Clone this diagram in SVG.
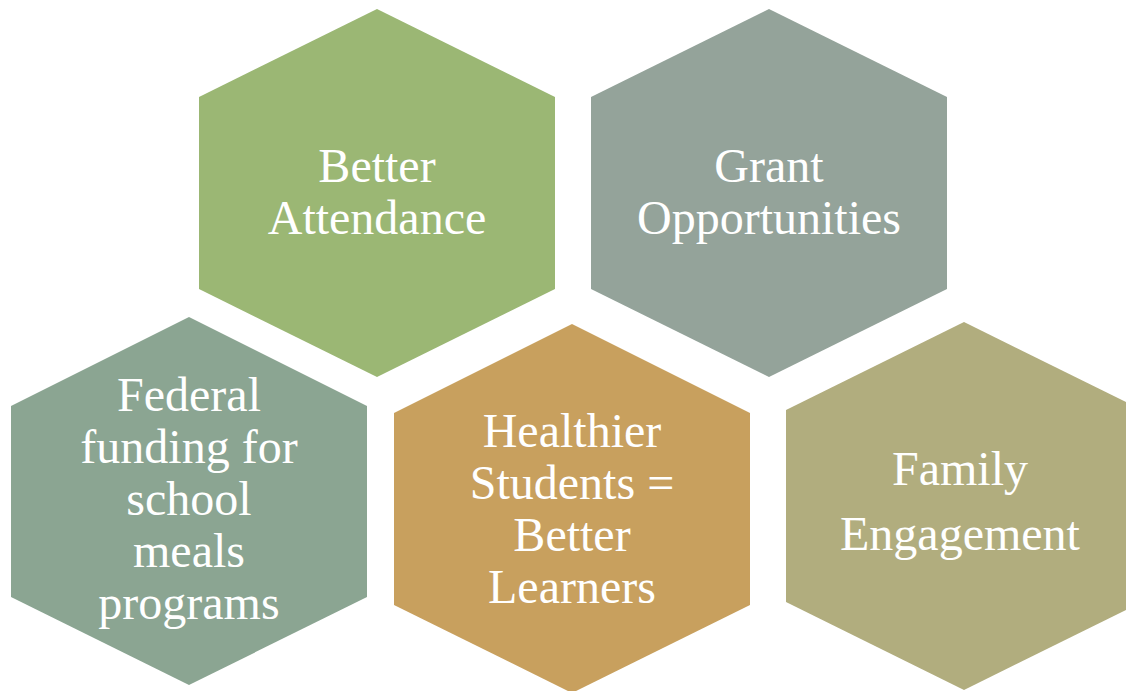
<svg xmlns="http://www.w3.org/2000/svg" width="1126" height="691" viewBox="0 0 1126 691">
  <style>
    .lbl { font-family: "Liberation Serif", "Times New Roman", serif; font-size: 48px; fill: #FFFFFF; text-anchor: middle; }
  </style>
  <rect width="1126" height="691" fill="#FFFFFF"/>
  <g id="connectors"></g>
  <g id="node-better-attendance">
    <polygon points="377,9 555,97 555,289 377,377 199,289 199,97" fill="#9BB774"/>
    <text class="lbl" x="377" y="182">Better</text>
    <text class="lbl" x="377" y="234">Attendance</text>
  </g>
  <g id="node-grant-opportunities">
    <polygon points="769,9 947,97 947,289 769,377 591,289 591,97" fill="#94A39A"/>
    <text class="lbl" x="769" y="182">Grant</text>
    <text class="lbl" x="769" y="234">Opportunities</text>
  </g>
  <g id="node-federal-funding">
    <polygon points="189,317 367,406 367,597 189,685 11,597 11,406" fill="#8BA592"/>
    <text class="lbl" x="189" y="411">Federal</text>
    <text class="lbl" x="189" y="463">funding for</text>
    <text class="lbl" x="189" y="515">school</text>
    <text class="lbl" x="189" y="567">meals</text>
    <text class="lbl" x="189" y="619">programs</text>
  </g>
  <g id="node-healthier-students">
    <polygon points="572,324 750,413 750,605 572,693 394,605 394,413" fill="#C8A05E"/>
    <text class="lbl" x="572" y="447">Healthier</text>
    <text class="lbl" x="572" y="499">Students =</text>
    <text class="lbl" x="572" y="551">Better</text>
    <text class="lbl" x="572" y="603">Learners</text>
  </g>
  <g id="node-family-engagement">
    <polygon points="964,322 1142,410 1142,602 964,690 786,602 786,410" fill="#B1AD7E"/>
    <text class="lbl" x="960" y="485">Family</text>
    <text class="lbl" x="960" y="550">Engagement</text>
  </g>
</svg>
